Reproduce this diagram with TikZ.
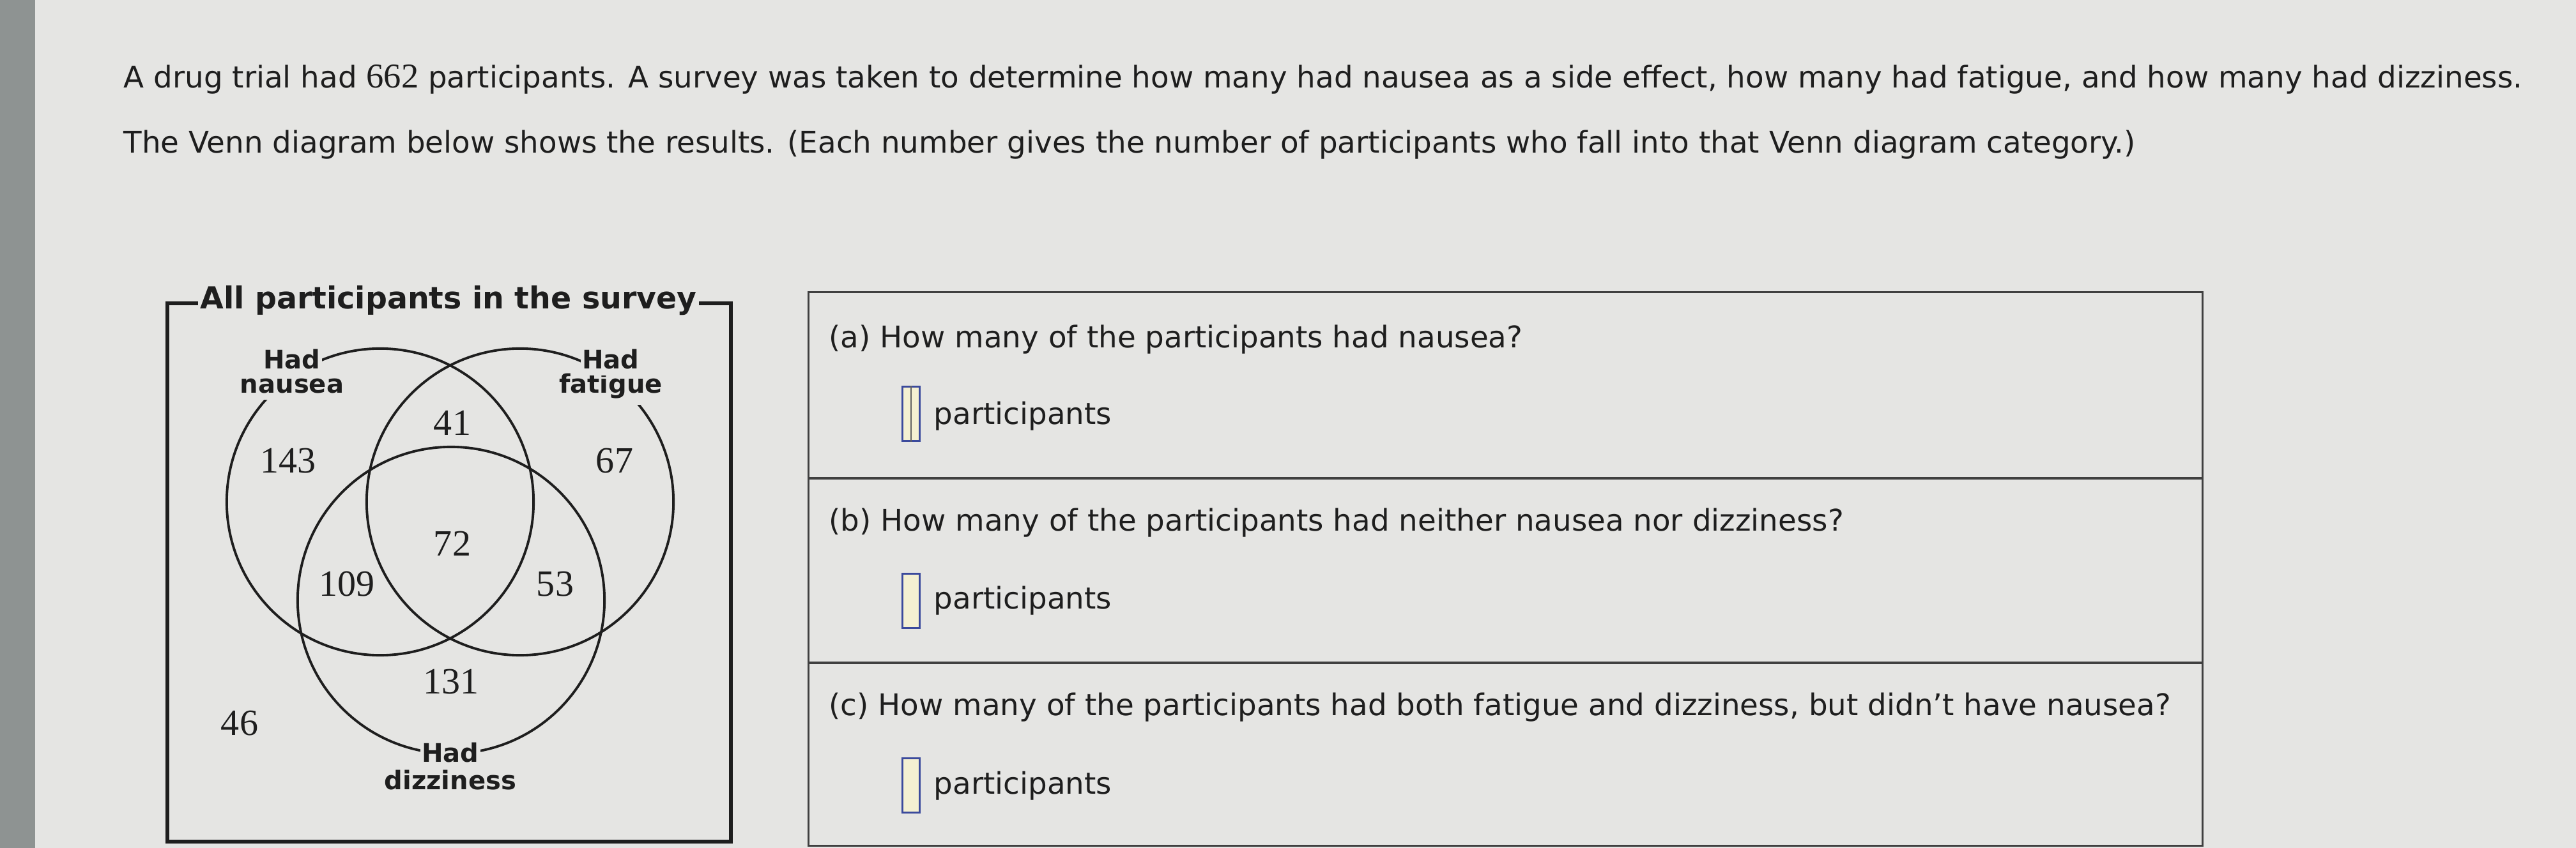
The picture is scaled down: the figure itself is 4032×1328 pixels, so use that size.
\documentclass[tikz,border=0pt]{standalone}
\usepackage{fontspec}
\setmainfont{DejaVu Sans}
\newfontfamily\serifnum{Liberation Serif}
\definecolor{bgc}{HTML}{E5E5E3}
\definecolor{stripc}{HTML}{8E9392}
\definecolor{inkc}{HTML}{1E1E1E}
\definecolor{boxblue}{HTML}{3B4A9C}
\definecolor{boxfill}{HTML}{F4F0D2}
\tikzset{
 maintext/.style={anchor=base west, inner sep=0pt, font=\fontsize{13.3}{16}\selectfont, text=inkc},
 vennnum/.style={anchor=base, inner sep=0pt, font=\serifnum\fontsize{16.5}{18}\selectfont, text=inkc},
 setlabel/.style={anchor=base, fill=bgc, inner xsep=0.6pt, inner ysep=2.6pt, font=\bfseries\fontsize{11.4}{11.4}\selectfont, text=inkc},
 titlelabel/.style={anchor=base, fill=bgc, inner xsep=1pt, inner ysep=1pt, font=\bfseries\fontsize{13.5}{15}\selectfont, text=inkc},
 setcircle/.style={circle, draw=inkc, line width=1.1pt, minimum size=4.8cm, inner sep=0pt},
 ansbox/.style={draw=boxblue, fill=boxfill, line width=0.8pt, minimum width=0.27cm, minimum height=0.85cm, inner sep=0pt},
 qrow/.style={draw=inkc!85, line width=0.9pt, minimum width=21.81cm, inner sep=0pt},
}
\begin{document}
\begin{tikzpicture}[x=0.01cm,y=-0.01cm]
\fill[bgc] (0,0) rectangle (4032,1328);
\fill[stripc] (0,0) rectangle (55,1328);
\useasboundingbox (0,0) rectangle (4032,1328);

% heading text
\node[maintext] (line1) at (193,138) {A drug trial had {\serifnum\fontsize{15.5}{16}\selectfont 662} participants. A survey was taken to determine how many had nausea as a side effect, how many had fatigue, and how many had dizziness.};
\node[maintext] (line2) at (193,240) {The Venn diagram below shows the results. (Each number gives the number of participants who fall into that Venn diagram category.)};

% Venn frame
\draw[inkc, line width=1.7pt] (262,475) rectangle (1144,1318);
\node[titlelabel] (title) at (702,484) {All participants in the survey};

% circles
\node[setcircle] (nausea) at (595,786) {};
\node[setcircle] (fatigue) at (814,786) {};
\node[setcircle] (dizzy) at (706,940) {};

% set labels
\node[setlabel] (lnausea2) at (457,616) {nausea};
\node[setlabel] (lnausea1) at (457,578) {Had};
\node[setlabel] (lfatigue2) at (956,616) {fatigue};
\node[setlabel] (lfatigue1) at (956,578) {Had};
\node[setlabel] (ldizzy2) at (705,1236) {dizziness};
\node[setlabel] (ldizzy1) at (705,1193) {Had};

% region numbers
\node[vennnum] (n143) at (451,741) {143};
\node[vennnum] (n41) at (708,682) {41};
\node[vennnum] (n67) at (962,741) {67};
\node[vennnum] (n72) at (708,870) {72};
\node[vennnum] (n109) at (543,933) {109};
\node[vennnum] (n53) at (869,933) {53};
\node[vennnum] (n131) at (706,1086) {131};
\node[vennnum] (n46) at (375,1151) {46};

% question table
\node[qrow, minimum height=2.91cm] (rowa) at (2356.5,603.5) {};
\node[qrow, minimum height=2.89cm] (rowb) at (2356.5,893.5) {};
\node[qrow, minimum height=2.86cm] (rowc) at (2356.5,1181) {};

\node[maintext] (qa) at (1297,545) {(a) How many of the participants had nausea?};
\node[maintext] (qb) at (1297,832) {(b) How many of the participants had neither nausea nor dizziness?};
\node[maintext] (qc) at (1297,1120) {(c) How many of the participants had both fatigue and dizziness, but didn’t have nausea?};

\node[ansbox] (boxa) at (1426,648) {};
\node[ansbox] (boxb) at (1426,941) {};
\node[ansbox] (boxc) at (1426,1230) {};
\draw[inkc!70, line width=0.5pt] (boxa.north) -- (boxa.south);

\node[maintext] (pa) at (1461,665) {participants};
\node[maintext] (pb) at (1461,954) {participants};
\node[maintext] (pc) at (1461,1243) {participants};
\end{tikzpicture}
\end{document}
